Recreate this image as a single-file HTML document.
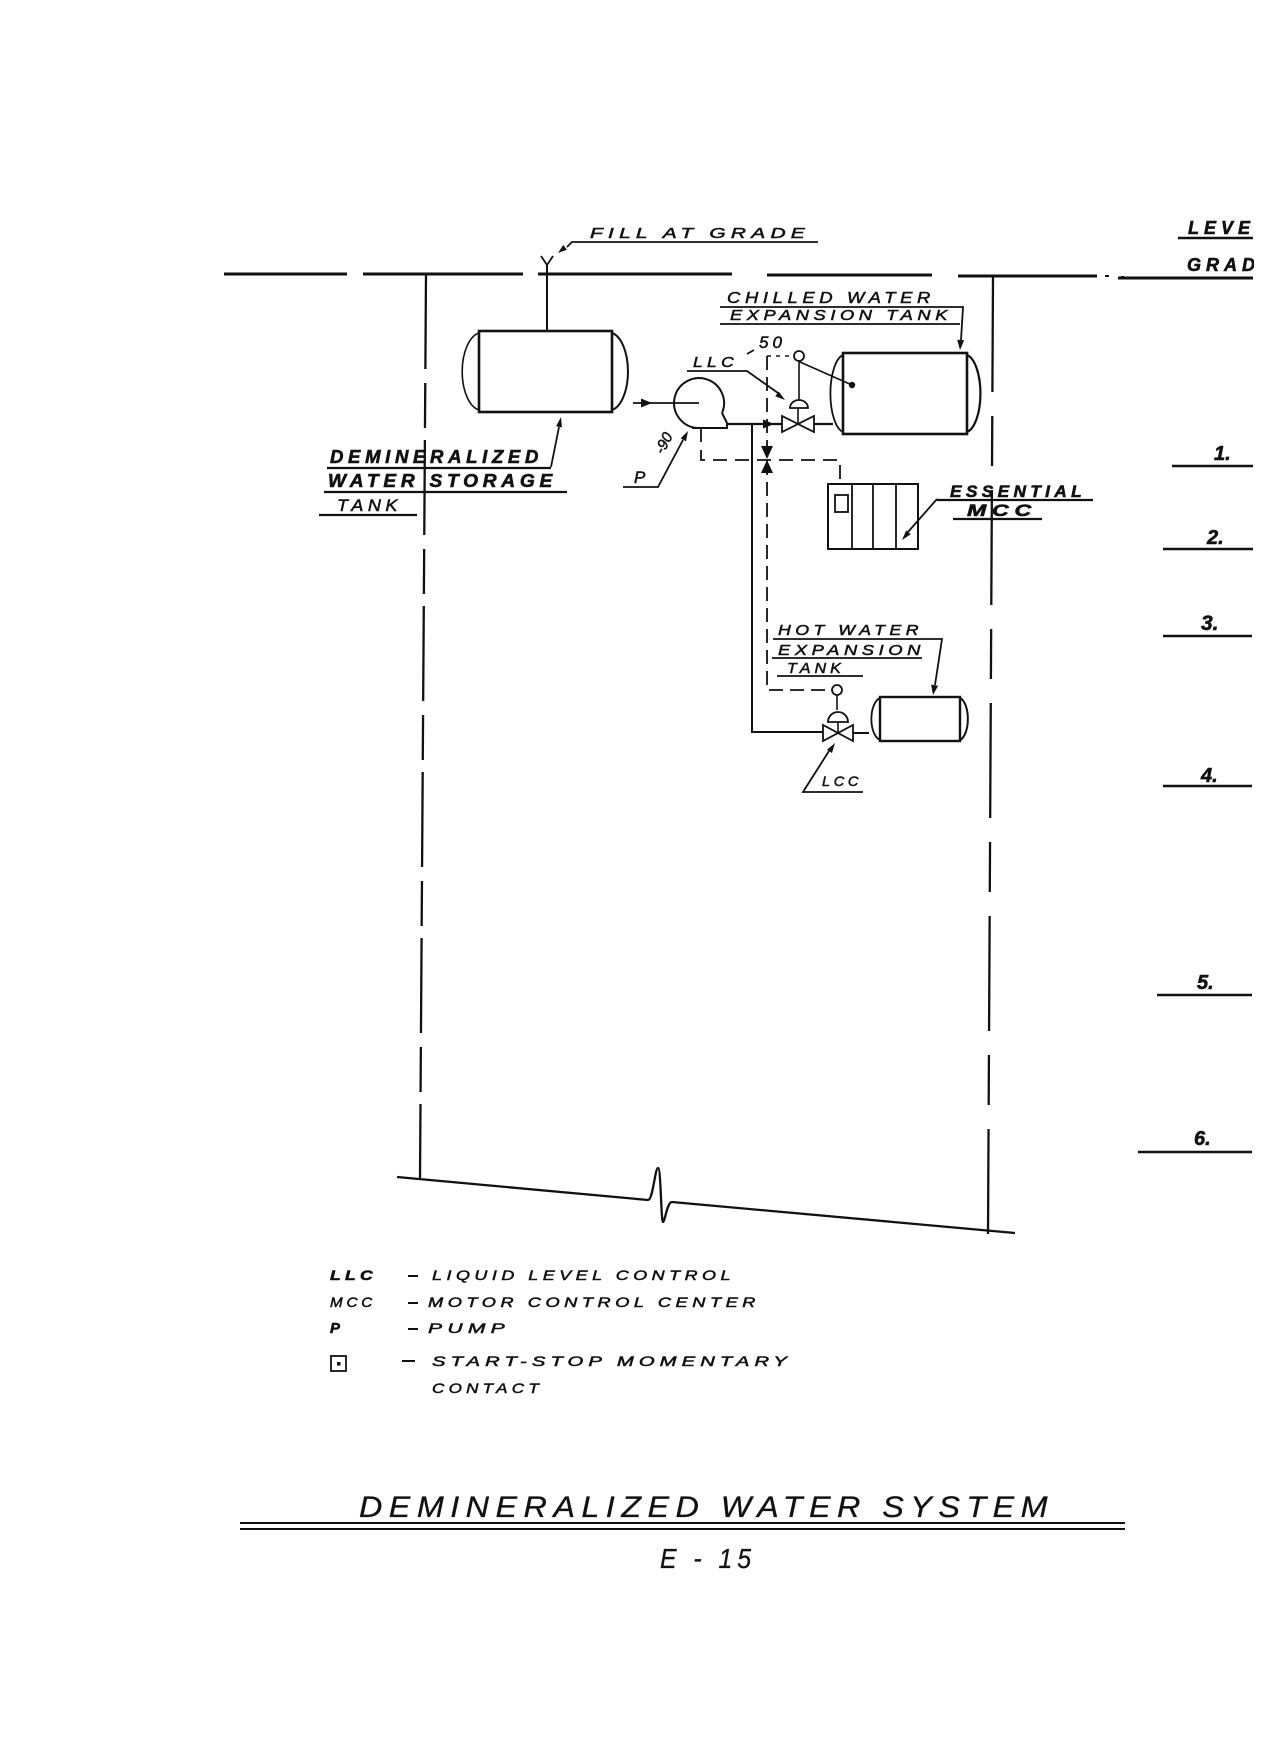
<!DOCTYPE html>
<html>
<head>
<meta charset="utf-8">
<style>
html,body{margin:0;padding:0;background:#fff;}
svg{display:block;}
text{font-family:"Liberation Sans",sans-serif;font-style:italic;fill:#111;stroke:#111;stroke-width:0.5;letter-spacing:0.25em;}
text.b{font-weight:bold;stroke-width:0.6;}
text.t{stroke-width:0.3;letter-spacing:0.2em;}
text.n{letter-spacing:0;}
</style>
</head>
<body>
<svg width="1275" height="1755" viewBox="0 0 1275 1755" xmlns="http://www.w3.org/2000/svg">
<defs>
<clipPath id="edge"><rect x="0" y="0" width="1254" height="1755"/></clipPath>
</defs>
<rect width="1275" height="1755" fill="#fff"/>

<g stroke="#111" fill="none">
  <!-- grade line -->
  <path d="M224 274 H347 M363 274 H523 M538 274 H732 M767 275 H932 M958 276 H1097 M1118 278 H1253" stroke-width="3"/>
  <path d="M1105 276 H1109 M1121 277 H1124" stroke-width="2"/>
  <!-- LEVEL underline -->
  <path d="M1178 238 H1253" stroke-width="2.5"/>

  <!-- boundaries -->
  <path d="M426 274 L420 1178" stroke-width="2.3" stroke-dasharray="95 14 45 12"/>
  <path d="M993 277 L988 1234" stroke-width="2.3" stroke-dasharray="115 24 50 24"/>

  <!-- bottom break line -->
  <path d="M397 1177 L648 1200 C653 1200 655 1168 658 1168 C661 1168 661 1222 663 1222 C665 1222 667 1202 672 1202 L1015 1233" stroke-width="2.3"/>

  <!-- fill pipe + Y -->
  <path d="M547 265 V331" stroke-width="2"/>
  <path d="M541 256 L547 265 L553 256" stroke-width="1.8"/>
  <path d="M567 247 L572 242 H818" stroke-width="1.8"/>

  <!-- storage tank -->
  <rect x="479" y="331" width="133" height="81" stroke-width="2.6"/>
  <path d="M479 333 A20 39 0 0 0 479 410" stroke-width="1.6"/>
  <path d="M612 333 A19 39 0 0 1 612 410" stroke-width="2"/>
  <!-- demin leader -->
  <path d="M551 467 L559 427" stroke-width="1.8"/>
  <path d="M327 468 H551 M324 492 H567 M319 515 H417" stroke-width="2.2"/>

  <!-- tank to pump -->
  <path d="M633 403 H699" stroke-width="1.8"/>

  <!-- pump -->
  <path d="M722 413 A25 25 0 1 0 697 428" stroke-width="2"/>
  <path d="M692 428 H727 V423 M722 413 L727 423" stroke-width="2"/>
  <!-- P-90 leader -->
  <path d="M623 487 H658 L683 440" stroke-width="1.8"/>

  <!-- main pipe -->
  <path d="M727 424 H782 M814 424 H833" stroke-width="2.2"/>
  <!-- chilled valve -->
  <path d="M782 416 L782 432 L798 424 Z M814 416 L814 432 L798 424 Z" stroke-width="1.8"/>
  <path d="M798 424 V408 M799 400 V361" stroke-width="1.6"/>
  <path d="M790 408 H808 A9 8 0 0 0 790 408 Z" stroke-width="1.8"/>
  <circle cx="799" cy="356" r="5" stroke-width="1.8"/>
  <path d="M800 362 L852 385" stroke-width="1.6"/>

  <!-- LLC label -->
  <path d="M687 371 H747 L778 393" stroke-width="1.8"/>
  <path d="M747 354 L754 350" stroke-width="1.6"/>

  <!-- chilled tank -->
  <rect x="843" y="353" width="124" height="81" stroke-width="2.6"/>
  <path d="M843 355 A15 39 0 0 0 843 432" stroke-width="1.8"/>
  <path d="M967 355 A16 39 0 0 1 967 432" stroke-width="2.2"/>
  <!-- chilled labels -->
  <path d="M720 307 H963 L961 340 M720 324 H960" stroke-width="1.8"/>

  <!-- control dashed lines -->
  <path d="M767 356 H794" stroke-width="1.5" stroke-dasharray="4 5"/>
  <path d="M767 356 V690 H832" stroke-width="1.8" stroke-dasharray="14 7"/>
  <path d="M701 428 V460 H840 V484" stroke-width="1.8" stroke-dasharray="14 8"/>

  <!-- solid line to hot water -->
  <path d="M752 424 V732 H823" stroke-width="2"/>

  <!-- MCC -->
  <rect x="828" y="484" width="90" height="65" stroke-width="2"/>
  <path d="M852 484 V549 M873 484 V549 M896 484 V549" stroke-width="1.8"/>
  <rect x="835" y="495" width="13" height="17" stroke-width="1.8"/>
  <path d="M937 500 H1093 M953 519 H1042" stroke-width="2.2"/>
  <path d="M937 499 L908 532" stroke-width="1.8"/>

  <!-- hot water valve -->
  <circle cx="837" cy="690" r="5" stroke-width="1.8"/>
  <path d="M837 695 V710 M838 722 V733" stroke-width="1.6"/>
  <path d="M828 722 H848 A10 10 0 0 0 828 722 Z" stroke-width="1.8"/>
  <path d="M823 725 L823 741 L838 733 Z M853 725 L853 741 L838 733 Z" stroke-width="1.8"/>
  <path d="M853 733 H869" stroke-width="2"/>
  <!-- hot water tank -->
  <rect x="880" y="697" width="80" height="44" stroke-width="2.4"/>
  <path d="M880 698 A11 21.5 0 0 0 880 740" stroke-width="1.8"/>
  <path d="M960 698 A10 21.5 0 0 1 960 740" stroke-width="2"/>
  <!-- hot water labels -->
  <path d="M773 639 H942 L935 685 M772 658 H922 M777 676 H863" stroke-width="1.8"/>
  <!-- LCC -->
  <path d="M863 792 H803 L829 751" stroke-width="1.8"/>

  <!-- level underlines -->
  <path d="M1172 466 H1253 M1163 549 H1253 M1163 636 H1252 M1163 786 H1252 M1157 995 H1252 M1138 1152 H1252" stroke-width="2.5"/>

  <!-- legend -->
  <path d="M408 1276 H418 M408 1303 H418 M408 1329 H418 M402 1361 H415" stroke-width="2"/>
  <rect x="331" y="1356" width="15" height="15" stroke-width="1.8"/>

  <!-- title lines -->
  <path d="M240 1523 H1125 M240 1529 H1125" stroke-width="2"/>
</g>

<!-- filled arrowheads / dots -->
<g fill="#111" stroke="none">
  <polygon points="558,253 566.9,249.8 563.2,245.0"/>
  <polygon points="561,417 561.9,427.4 556.1,426.2"/>
  <polygon points="688,431 686.0,441.2 680.6,438.4"/>
  <polygon points="785,400 775.2,396.3 778.8,391.5"/>
  <polygon points="960,350 964.2,340.2 957.2,339.8"/>
  <polygon points="652,403 641,398.5 641,407.5"/>
  <polygon points="774,424 763,419.5 763,428.5"/>
  <polygon points="902,540 910.8,534.3 906.2,530.4"/>
  <polygon points="933,695 938.1,685.7 931.1,684.6"/>
  <polygon points="835,743 832.0,753.0 827.0,749.8"/>
  <polygon points="761,446 773,446 767,459"/>
  <polygon points="761,473 773,473 767,460"/>
  <circle cx="852" cy="385" r="3.2"/>
  <rect x="337" y="1362" width="3.5" height="3.5"/>
</g>

<!-- labels -->
<text x="590" y="238" font-size="15" textLength="220" lengthAdjust="spacingAndGlyphs">FILL AT GRADE</text>
<text x="727" y="303" font-size="16" textLength="208" lengthAdjust="spacingAndGlyphs">CHILLED WATER</text>
<text x="730" y="320" font-size="15" textLength="222" lengthAdjust="spacingAndGlyphs">EXPANSION TANK</text>
<text x="693" y="367" font-size="15" textLength="45" lengthAdjust="spacingAndGlyphs">LLC</text>
<text class="n" x="759" y="348" font-size="17" textLength="23" lengthAdjust="spacing">50</text>

<text class="b" x="330" y="463" font-size="18" textLength="213" lengthAdjust="spacingAndGlyphs">DEMINERALIZED</text>
<text class="b" x="328" y="487" font-size="18" textLength="229" lengthAdjust="spacingAndGlyphs">WATER STORAGE</text>
<text x="337" y="511" font-size="17" textLength="65" lengthAdjust="spacingAndGlyphs">TANK</text>

<text class="n" x="634" y="483" font-size="17">P</text>
<text class="n" transform="translate(663,455) rotate(-62)" font-size="15">-90</text>

<text class="b" x="950" y="497" font-size="17" textLength="136" lengthAdjust="spacingAndGlyphs">ESSENTIAL</text>
<text class="b" x="967" y="516" font-size="17" textLength="70" lengthAdjust="spacingAndGlyphs">MCC</text>

<text x="778" y="635" font-size="15" textLength="145" lengthAdjust="spacingAndGlyphs">HOT WATER</text>
<text x="778" y="655" font-size="15" textLength="147" lengthAdjust="spacingAndGlyphs">EXPANSION</text>
<text x="787" y="673" font-size="15" textLength="58" lengthAdjust="spacingAndGlyphs">TANK</text>
<text x="822" y="786" font-size="14" textLength="40" lengthAdjust="spacingAndGlyphs">LCC</text>

<g clip-path="url(#edge)">
  <text class="b" x="1188" y="234" font-size="18" style="letter-spacing:5px">LEVEL</text>
  <text class="b" x="1187" y="271" font-size="18" style="letter-spacing:5px">GRADE</text>
</g>

<text class="b n" x="1214" y="460" font-size="20">1.</text>
<text class="b n" x="1207" y="544" font-size="20">2.</text>
<text class="b n" x="1201" y="630" font-size="21">3.</text>
<text class="b n" x="1201" y="782" font-size="20">4.</text>
<text class="b n" x="1197" y="989" font-size="20">5.</text>
<text class="b n" x="1194" y="1145" font-size="20">6.</text>

<!-- legend text -->
<text class="b" x="330" y="1280" font-size="14" textLength="47" lengthAdjust="spacingAndGlyphs">LLC</text>
<text x="432" y="1280" font-size="14" textLength="303" lengthAdjust="spacingAndGlyphs">LIQUID LEVEL CONTROL</text>
<text x="330" y="1307" font-size="14" textLength="46" lengthAdjust="spacingAndGlyphs">MCC</text>
<text x="428" y="1307" font-size="14" textLength="332" lengthAdjust="spacingAndGlyphs">MOTOR CONTROL CENTER</text>
<text class="b n" x="330" y="1333" font-size="15">P</text>
<text x="428" y="1333" font-size="14" textLength="82" lengthAdjust="spacingAndGlyphs">PUMP</text>
<text x="432" y="1366" font-size="14" textLength="360" lengthAdjust="spacingAndGlyphs">START-STOP MOMENTARY</text>
<text x="432" y="1393" font-size="14" textLength="111" lengthAdjust="spacingAndGlyphs">CONTACT</text>

<!-- title -->
<text class="t" x="359" y="1517" font-size="30" textLength="695" lengthAdjust="spacingAndGlyphs">DEMINERALIZED WATER SYSTEM</text>
<text class="t" x="660" y="1568" font-size="28" textLength="96" lengthAdjust="spacingAndGlyphs">E - 15</text>
</svg>
</body>
</html>
